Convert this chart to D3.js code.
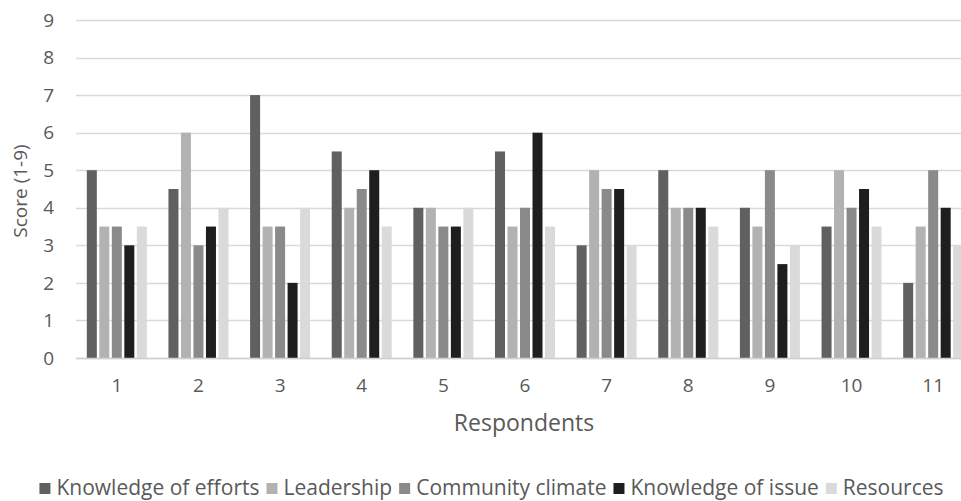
<!DOCTYPE html>
<html lang="en">
<head>
<meta charset="UTF-8">
<title>Scores by respondent</title>
<style>
  body { margin: 0; background: #fff; }
  text { font-family: "Open Sans", sans-serif; fill: #595959; }
  .grid line { stroke: #d9d9d9; stroke-width: 1.3px; }
</style>
</head>
<body>
<div id="chart"></div>
<script src="https://d3js.org/d3.v7.min.js"></script>
<script>
var respondents = ["1","2","3","4","5","6","7","8","9","10","11"];
var seriesNames = ["Knowledge of efforts","Leadership","Community climate","Knowledge of issue","Resources"];
var seriesColors = ["#606060","#b2b2b2","#8a8a8a","#1e1e1e","#dadada"];
var knowledgeOfEfforts = [5, 4.5, 7, 5.5, 4, 5.5, 3, 5, 4, 3.5, 2];
var leadership        = [3.5, 6, 3.5, 4, 4, 3.5, 5, 4, 3.5, 5, 3.5];
var communityClimate  = [3.5, 3, 3.5, 4.5, 3.5, 4, 4.5, 4, 5, 4, 5];
var knowledgeOfIssue  = [3, 3.5, 2, 5, 3.5, 6, 4.5, 4, 2.5, 4.5, 4];
var resources         = [3.5, 4, 4, 3.5, 4, 3.5, 3, 3.5, 3, 3.5, 3];
var yTicks = [0,1,2,3,4,5,6,7,8,9];

var allSeries = [knowledgeOfEfforts, leadership, communityClimate, knowledgeOfIssue, resources];

var W = 961, H = 501;
var margin = {top: 20, left: 76, bottom: 143};
var plotRight = 974;
var height = H - margin.top - margin.bottom;

var svg = d3.select("#chart").append("svg")
  .attr("width", W).attr("height", H);

var x = d3.scaleBand().domain(respondents)
  .range([margin.left, plotRight])
  .paddingInner(0.265).paddingOuter(0.1325);
var xs = d3.scaleBand().domain(d3.range(seriesNames.length))
  .range([0, x.bandwidth()]).paddingInner(0.2);
var y = d3.scaleLinear().domain([0, 9]).range([margin.top + height, margin.top]);

// gridlines
svg.append("g").attr("class", "grid")
  .selectAll("line").data(yTicks).join("line")
  .attr("x1", margin.left).attr("x2", plotRight)
  .attr("y1", d => Math.round(y(d)) + 0.5).attr("y2", d => Math.round(y(d)) + 0.5);

// y tick labels
svg.append("g").selectAll("text").data(yTicks).join("text")
  .attr("x", 54).attr("y", d => y(d))
  .attr("dy", "0.35em").attr("text-anchor", "end")
  .style("font-size", "19px")
  .text(d => d);

// bars
var groups = svg.append("g").selectAll("g").data(respondents).join("g")
  .attr("transform", d => "translate(" + x(d) + ",0)");
groups.selectAll("rect")
  .data((d, i) => allSeries.map((s, k) => ({k: k, v: s[i]})))
  .join("rect")
  .attr("x", d => xs(d.k))
  .attr("width", xs.bandwidth())
  .attr("y", d => y(d.v))
  .attr("height", d => y(0) - y(d.v))
  .attr("fill", d => seriesColors[d.k]);

// baseline
svg.append("line")
  .attr("x1", margin.left).attr("x2", plotRight)
  .attr("y1", Math.round(y(0)) + 0.5).attr("y2", Math.round(y(0)) + 0.5)
  .attr("stroke", "#d0d0d0").attr("stroke-width", 1.5);

// x tick labels
svg.append("g").selectAll("text").data(respondents).join("text")
  .attr("x", d => x(d) + x.bandwidth() / 2)
  .attr("y", 392).attr("text-anchor", "middle")
  .style("font-size", "19px")
  .text(d => d);

// axis titles
svg.append("text").attr("x", 524).attr("y", 431)
  .attr("text-anchor", "middle").style("font-size", "23px")
  .text("Respondents");
svg.append("text")
  .attr("transform", "translate(27,191) rotate(-90)")
  .attr("text-anchor", "middle").style("font-size", "19px")
  .text("Score (1-9)");

// legend
var legend = svg.append("g");
var lx = 0;
seriesNames.forEach(function(name, i) {
  var item = legend.append("g").attr("transform", "translate(" + lx + ",0)");
  item.append("rect").attr("x", 0).attr("y", -12).attr("width", 11).attr("height", 11)
    .attr("fill", seriesColors[i]);
  var t = item.append("text").attr("x", 17).attr("y", 0)
    .style("font-size", "21px").text(name);
  lx += 17 + t.node().getComputedTextLength() + 7;
});
lx -= 7;
legend.attr("transform", "translate(" + (491.5 - lx / 2) + ",495)");
</script>
</body>
</html>
